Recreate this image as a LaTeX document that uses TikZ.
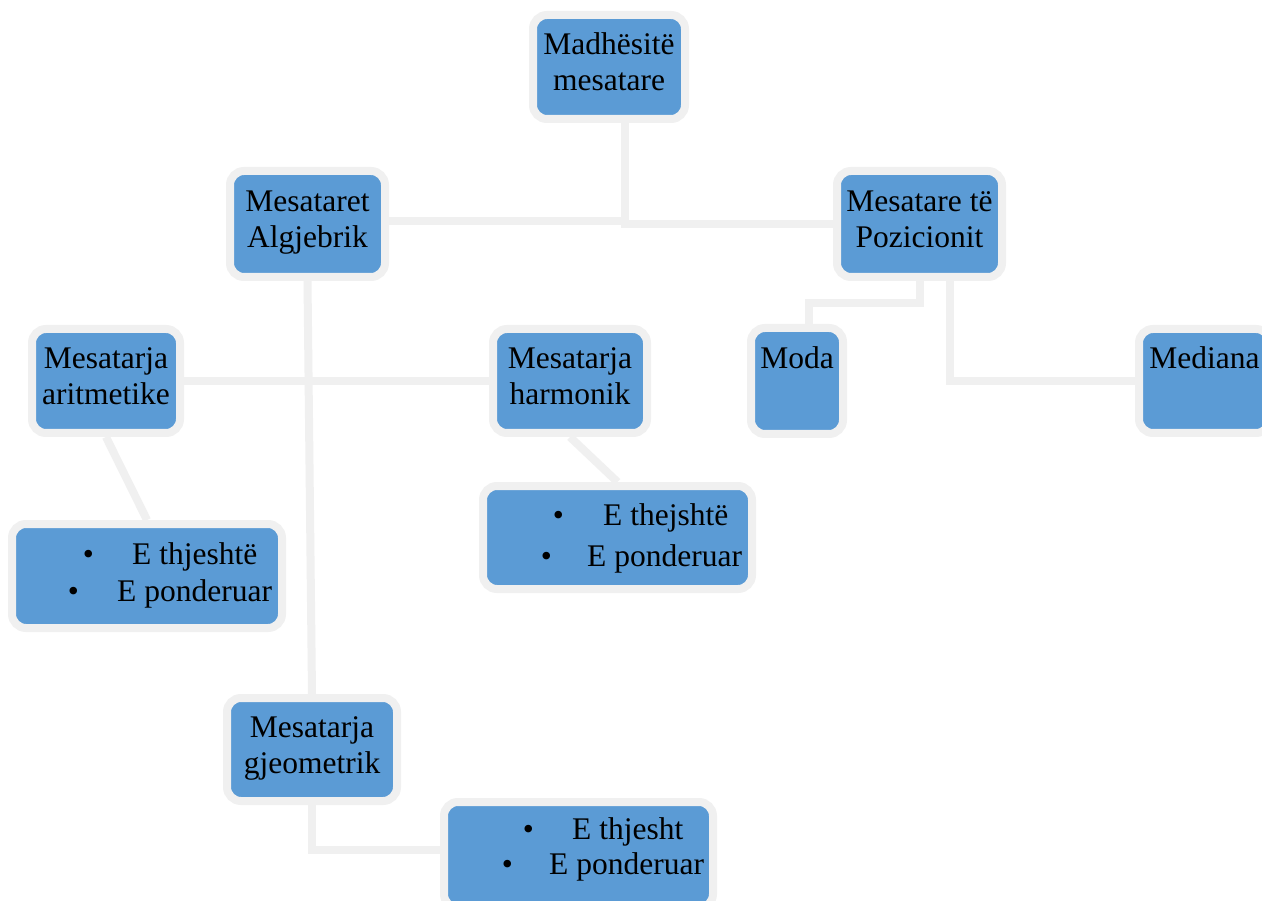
\documentclass[tikz,border=0pt]{standalone}
\usepackage{fontspec}
\setmainfont{Liberation Serif}
\usetikzlibrary{backgrounds}
\definecolor{boxblue}{HTML}{5B9BD5}
\definecolor{linegray}{HTML}{F0F0F0}
\newcommand{\tstrut}{\rule{0pt}{27pt}}
\newcommand{\bstrut}{\rule[-15pt]{0pt}{15pt}}
\begin{document}
\begin{tikzpicture}[x=1pt,y=-1pt,
  box/.style={draw=linegray, line width=8pt, fill=boxblue, rounded corners=14pt,
    inner sep=0pt, align=center, font=\fontsize{31.5}{36}\selectfont, text=black},
  conn/.style={draw=linegray, line width=8pt},
  item/.style={anchor=base west, inner sep=0pt, font=\fontsize{31.5}{36}\selectfont, text=black}]
\useasboundingbox (0,0) rectangle (1262,901);

% boxes
\node[box, minimum width=152pt, minimum height=104pt] (top) at (609,67) {\tstrut Madhësitë\\mesatare\bstrut};
\node[box, minimum width=155pt, minimum height=106pt] (alg) at (307.5,224) {\tstrut Mesataret\\Algjebrik\bstrut};
\node[box, minimum width=165pt, minimum height=106pt] (poz) at (919.5,224) {\tstrut Mesatare të\\Pozicionit\bstrut};
\node[box, minimum width=148pt, minimum height=104pt] (arit) at (106,381) {\tstrut Mesatarja\\aritmetike\bstrut};
\node[box, minimum width=154pt, minimum height=104pt] (harm) at (570,381) {\tstrut Mesatarja\\harmonik\bstrut};
\node[box, minimum width=92pt, minimum height=106pt] (moda) at (797,381) {\tstrut Moda\\\bstrut};
\node[box, minimum width=131pt, minimum height=104pt] (med) at (1204.5,381) {\tstrut Mediana\\\bstrut};
\node[box, minimum width=270pt, minimum height=104pt] (list1) at (147,576) {};
\node[box, minimum width=269pt, minimum height=103pt] (list2) at (617.5,537.5) {};
\node[box, minimum width=170pt, minimum height=103pt] (gjeo) at (312,749.5) {\tstrut Mesatarja\\gjeometrik\bstrut};
\node[box, minimum width=269pt, minimum height=106pt] (list3) at (578.5,855) {};

% list items
\node[item] (l1a) at (82.6,564) {\makebox[49.4pt][l]{\textbullet}E thjeshtë};
\node[item] (l1b) at (67.6,601) {\makebox[49.4pt][l]{\textbullet}E ponderuar};
\node[item] (l2a) at (552.6,525) {\makebox[50.4pt][l]{\textbullet}E thejshtë};
\node[item] (l2b) at (540.6,566) {\makebox[46.4pt][l]{\textbullet}E ponderuar};
\node[item] (l3a) at (522.6,839) {\makebox[49.4pt][l]{\textbullet}E thjesht};
\node[item] (l3b) at (501.6,874) {\makebox[47.4pt][l]{\textbullet}E ponderuar};

\begin{scope}[on background layer]
  \fill[white] (0,0) rectangle (1262,901);
  \coordinate (j1) at (624.5,221);
  \draw[conn] (top.south -| j1) -- (j1 |- poz.west) -- (poz.west);
  \draw[conn] (alg.east |- j1) -- (j1);
  \draw[conn] (alg.south) -- (gjeo.north);
  \draw[conn] (arit.east) -- (harm.west);
  \draw[conn] (arit.south) -- (list1.north);
  \draw[conn] (harm.south) -- (list2.north);
  \coordinate (c3) at (312,850);
  \draw[conn] (gjeo.south) -- (c3) -- (c3 -| list3.west);
  \coordinate (c1) at (809,303);
  \draw[conn] (poz.south) |- (c1) -- (c1 |- moda.north);
  \coordinate (c2) at (950,381);
  \draw[conn] (c2 |- poz.south) -- (c2) -- (med.west);
\end{scope}
\end{tikzpicture}
\end{document}
